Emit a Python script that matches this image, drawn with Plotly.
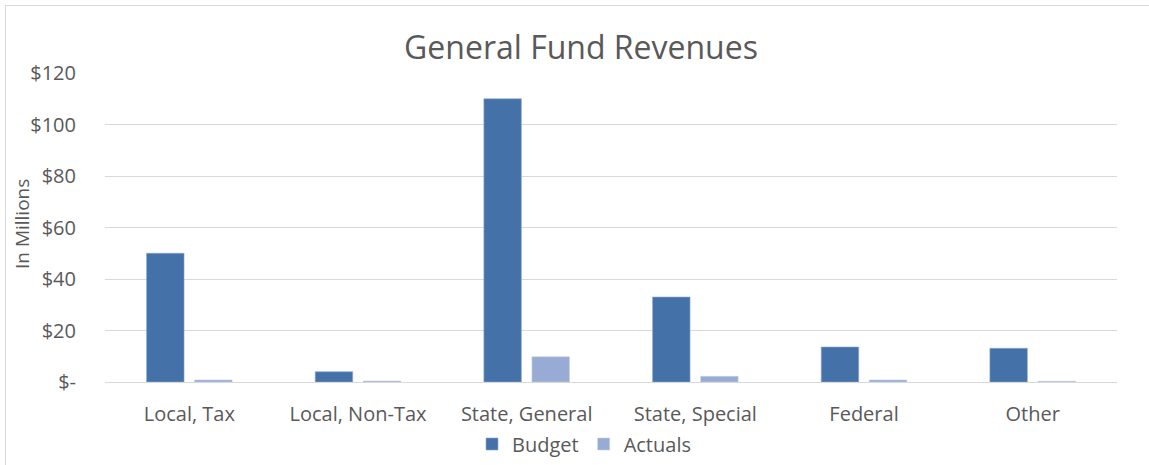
import plotly.graph_objects as go

categories = ["Local, Tax", "Local, Non-Tax", "State, General", "State, Special", "Federal", "Other"]
budget = [50.0, 4.0, 110.0, 33.0, 13.6, 13.1]
actuals = [0.8, 0.4, 9.8, 2.2, 0.8, 0.3]
y_tick_vals = [0, 20, 40, 60, 80, 100, 120]
y_tick_text = ["$-", "$20", "$40", "$60", "$80", "$100", "$120"]

W, H = 1149, 465
ML, MR, MT, MB = 105, 32, 73, 83
PW, PH = W - ML - MR, H - MT - MB

FONT = "'Open Sans', sans-serif"
GRAY = "#595959"

fig = go.Figure()
fig.add_trace(go.Bar(name="Budget", x=categories, y=budget,
                     marker=dict(color="#4472A8", line=dict(color="#8EA9D0", width=0.6))))
fig.add_trace(go.Bar(name="Actuals", x=categories, y=actuals,
                     marker=dict(color="#97ABD4", line=dict(color="#C5D2E8", width=0.6))))

def px_x(px):
    return (px - ML) / PW

def px_y(py):
    return (H - MB - py) / PH

# outer chart border (only left and top edges are in frame)
fig.add_shape(type="rect", xref="paper", yref="paper",
              x0=px_x(5.5), x1=px_x(W + 20), y0=px_y(H + 20), y1=px_y(5.5),
              line=dict(color="#D9D9D9", width=1), fillcolor="rgba(0,0,0,0)", layer="below")

# y-axis title
fig.add_annotation(text="In Millions", xref="paper", yref="paper",
                   x=px_x(22), y=px_y(224), xanchor="center", yanchor="middle",
                   textangle=-90, showarrow=False,
                   font=dict(family=FONT, size=19, color=GRAY))

fig.update_layout(
    width=W, height=H,
    margin=dict(l=ML, r=MR, t=MT, b=MB, autoexpand=False),
    paper_bgcolor="white", plot_bgcolor="white",
    barmode="group", bargap=0.43, bargroupgap=0.22,
    title=dict(text="General Fund Revenues", x=581 / W, xanchor="center", xref="container",
               y=1 - 48 / H, yanchor="middle",
               font=dict(family=FONT, size=32, color=GRAY)),
    font=dict(family=FONT, color=GRAY),
    xaxis=dict(showgrid=False, showline=False, ticks="", zeroline=False, automargin=False,
               tickfont=dict(size=20, color=GRAY), ticklabelstandoff=18),
    yaxis=dict(range=[0, 120], tickvals=y_tick_vals, ticktext=y_tick_text, automargin=False,
               showgrid=True, gridcolor="#D9D9D9", gridwidth=1,
               zeroline=True, zerolinecolor="#D9D9D9", zerolinewidth=1,
               showline=False, ticks="", ticklabelstandoff=28,
               tickfont=dict(size=20, color=GRAY)),
    legend=dict(orientation="h", x=584 / W, xanchor="center", xref="container",
                y=1 - 444 / H, yanchor="middle", yref="container",
                font=dict(size=20, color=GRAY), itemwidth=30, traceorder="normal"),
    showlegend=True,
)

fig.write_html("out.html")
